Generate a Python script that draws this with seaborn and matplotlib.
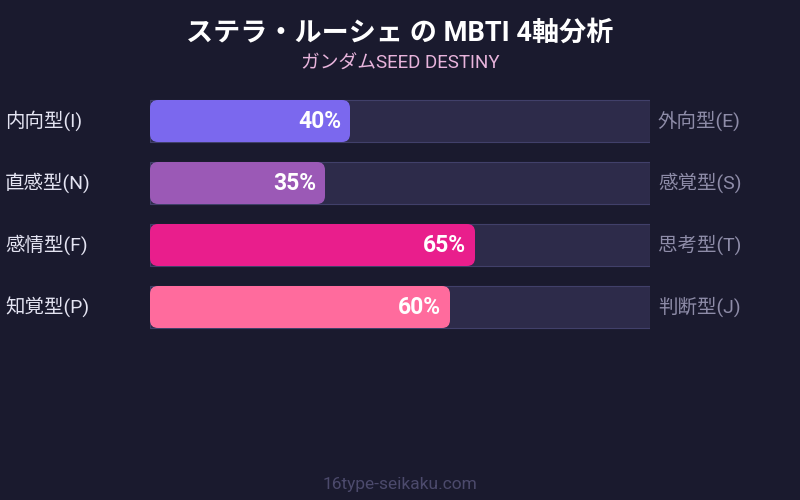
import matplotlib
matplotlib.use('Agg')
import matplotlib.pyplot as plt
from matplotlib.patches import FancyBboxPatch
import pandas as pd
import seaborn as sns

# Data
left_labels = ['内向型(I)', '直感型(N)', '感情型(F)', '知覚型(P)']
right_labels = ['外向型(E)', '感覚型(S)', '思考型(T)', '判断型(J)']
values = [40, 35, 65, 60]
bar_colors = ['#7b68ee', '#9b59b6', '#e91e8c', '#ff6b9d']
title = 'ステラ・ルーシェ の MBTI 4軸分析'
subtitle = 'ガンダムSEED DESTINY'
footer = '16type-seikaku.com'

BG = '#1a1a2e'
TRACK = '#2d2b4a'
TRACK_EDGE = '#41406a'

sns.set_theme(style='white')
plt.rcParams['font.family'] = ['Roboto', 'Noto Sans CJK JP', 'DejaVu Sans']

df = pd.DataFrame({'axis': left_labels, 'value': values, 'full': [100] * len(values)})

fig = plt.figure(figsize=(8, 5), dpi=100, facecolor=BG)
ax = fig.add_axes([150 / 800, 1 - 338 / 500, 500 / 800, 248 / 500])
ax.set_facecolor(BG)

bar_w = 42 / 62
# background tracks
sns.barplot(data=df, x='full', y='axis', orient='h', color=TRACK, width=bar_w,
            saturation=1, edgecolor=TRACK_EDGE, linewidth=0.8, ax=ax)
n_track = len(ax.patches)
# value bars
sns.barplot(data=df, x='value', y='axis', orient='h', hue='axis', palette=bar_colors,
            width=bar_w, saturation=1, legend=False, linewidth=0, ax=ax)

ax.set_xlim(0, 100)
ax.set_ylim(len(values) - 0.5, -0.5)

# swap value bars for rounded ones (radius ~8px)
x_per_px = 100 / 500
y_per_px = 1 / 62
value_patches = list(ax.patches)[n_track:]
for p in value_patches:
    x0, y0 = p.get_x(), p.get_y()
    w, h = p.get_width(), p.get_height()
    rounded = FancyBboxPatch((x0, y0), w, h,
                             boxstyle='round,pad=0,rounding_size=%f' % (8 * x_per_px),
                             mutation_aspect=y_per_px / x_per_px,
                             facecolor=p.get_facecolor(), edgecolor='none', zorder=3)
    p.remove()
    ax.add_patch(rounded)
    ax.text(x0 + w - 9 * x_per_px, y0 + h / 2, f'{w:.0f}%', ha='right', va='center',
            color='white', fontsize=16.5, fontweight='bold', zorder=4)

for i, (l, r) in enumerate(zip(left_labels, right_labels)):
    ax.text(-145 * x_per_px, i, l, ha='left', va='center', color='#e4e4f2', fontsize=14)
    ax.text(101.6, i, r, ha='left', va='center', color='#8e8ca8', fontsize=14)

ax.set_xlabel('')
ax.set_ylabel('')
ax.set_xticks([])
ax.set_yticks([])
for s in ax.spines.values():
    s.set_visible(False)

fig.text(0.5, 1 - 33 / 500, title, ha='center', va='center', color='white',
         fontsize=19.5, fontweight='bold')
fig.text(0.5, 1 - 64 / 500, subtitle, ha='center', va='center', color='#e8b4dc', fontsize=13.5)
fig.text(0.5, 1 - 484 / 500, footer, ha='center', va='center', color='#4c4a6c', fontsize=12.5)

fig.savefig('out.png', dpi=100, facecolor=BG)
